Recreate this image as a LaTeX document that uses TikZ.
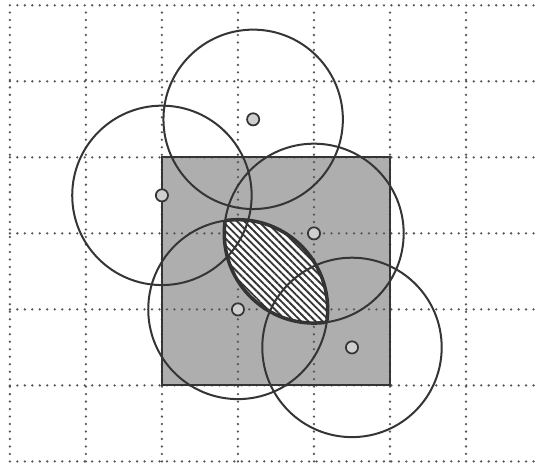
\documentclass[tikz,border=0pt]{standalone}
\usetikzlibrary{patterns.meta}
\definecolor{Ink}{HTML}{353535}
\definecolor{GridGray}{HTML}{555555}
\definecolor{AreaGray}{HTML}{AEAEAE}
\definecolor{DotFill}{HTML}{CFCFCF}
\newcommand{\ringrad}{1.18}

\begin{document}
\begin{tikzpicture}[
  x=1cm,y=1cm,
  gridline/.style={draw=GridGray,line width=0.95pt,line cap=round,
    dash pattern=on 0pt off 2.8pt},
  ring/.style={draw=Ink,line width=0.75pt},
  lens/.style={draw=Ink!90!black,line width=1.3pt},
  hatch/.style={pattern={Lines[angle=-45,distance=1.9pt,line width=0.7pt]},
    pattern color=Ink},
  centre/.style={draw=Ink,fill=DotFill,line width=0.65pt}
]
  \useasboundingbox (-0.13,-0.05) rectangle (6.96,6.07);

  \coordinate (cl) at (2,3.5);
  \coordinate (ct) at (3.2,4.5);
  \coordinate (cr) at (4,3);
  \coordinate (cbl) at (3,2);
  \coordinate (cbr) at (4.5,1.5);

  \fill[AreaGray] (2,1) rectangle (5,4);
  \draw[gridline] (0,0) grid (7,6);
  \draw[Ink,line width=0.75pt] (2,1) rectangle (5,4);

  % overlap of the two middle discs
  \begin{scope}
    \clip (cr) circle (\ringrad);
    \fill[white] (cbl) circle (\ringrad);
    \fill[hatch] (cbl) circle (\ringrad);
    \draw[lens] (cbl) circle (\ringrad);
  \end{scope}
  \begin{scope}
    \clip (cbl) circle (\ringrad);
    \draw[lens] (cr) circle (\ringrad);
  \end{scope}

  \draw[ring] (cl) circle (\ringrad);
  \draw[ring] (ct) circle (\ringrad);
  \draw[ring] (cr) circle (\ringrad);
  \draw[ring] (cbl) circle (\ringrad);
  \draw[ring] (cbr) circle (\ringrad);

  \draw[centre] (cl) circle (0.08);
  \draw[centre] (ct) circle (0.08);
  \draw[centre] (cr) circle (0.08);
  \draw[centre] (cbl) circle (0.08);
  \draw[centre] (cbr) circle (0.08);
\end{tikzpicture}
\end{document}
